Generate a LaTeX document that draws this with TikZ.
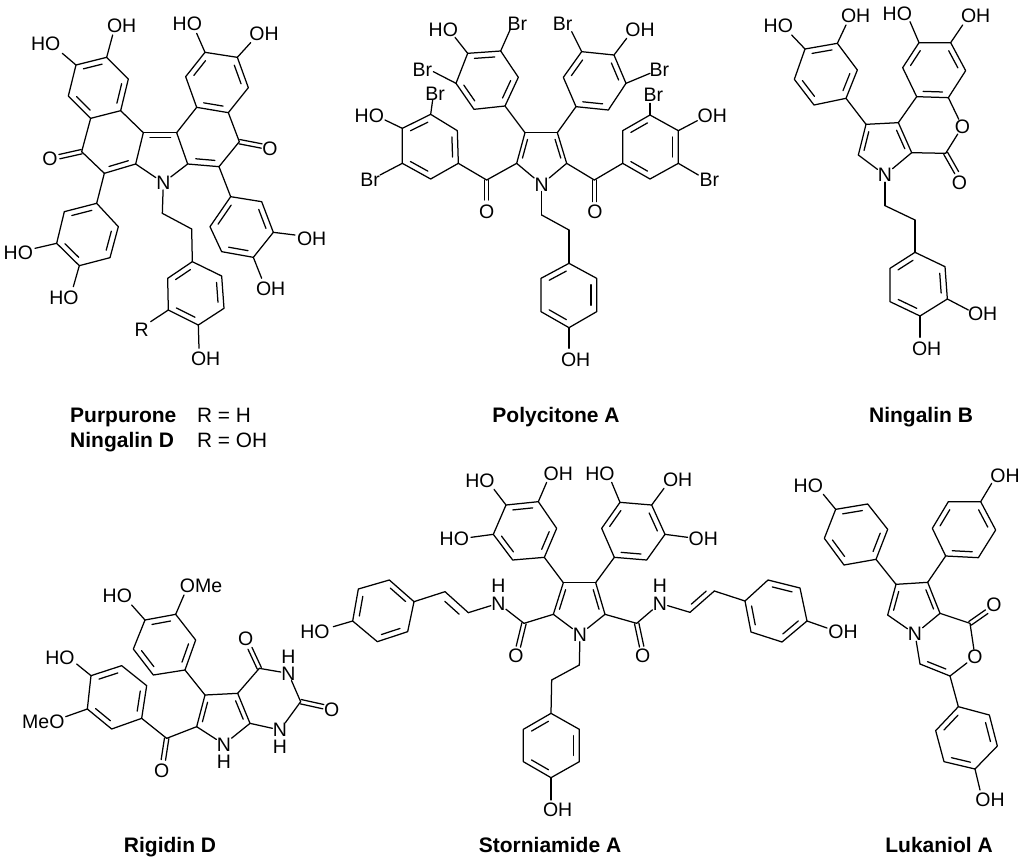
\documentclass[tikz,border=0pt]{standalone}
\usepackage{fontspec}
\setmainfont{Liberation Sans}
\usetikzlibrary{calc}
\tikzset{
  bond/.style={line width=1.25pt,black,line cap=round,line join=round},
  lab/.style={inner sep=0.3pt,font=\fontsize{19.5}{20}\selectfont,text=black},
  capt/.style={inner sep=0pt,font=\fontsize{21}{23}\selectfont\bfseries,text=black},
  capr/.style={inner sep=0pt,font=\fontsize{20.8}{23}\selectfont,text=black},
  zoomed/.style={x=0.33333pt,y=-0.33333pt}
}
\newcommand{\Atoms}[1]{\foreach \nm/\x/\y in {#1}{\coordinate (\nm) at (\x,\y);}}
\newcommand{\Bonds}[1]{\foreach \pa/\pb in {#1}{\draw[bond] (\pa)--(\pb);}}
\newcommand{\Inner}[1]{\foreach \pa/\pb/\pc in {#1}{\draw[bond,shorten >=3pt,shorten <=3pt] ($(\pa)!.2!(\pc)$)--($(\pb)!.2!(\pc)$);}}
\newcommand{\Dbl}[2]{\draw[bond] ($(#1)!2.2pt!90:(#2)$)--($(#2)!2.2pt!-90:(#1)$);\draw[bond] ($(#1)!2.2pt!-90:(#2)$)--($(#2)!2.2pt!90:(#1)$);}
\newcommand{\Hex}[2]{\foreach \x/\y [count=\k] in {#2}{\coordinate (#1\k) at (\x,\y);}
  \coordinate (#1c) at ($(#11)!.5!(#14)$);
  \draw[bond] (#11)--(#12)--(#13)--(#14)--(#15)--(#16)--cycle;
  \Inner{#11/#12/#1c,#13/#14/#1c,#15/#16/#1c}}
\newcommand{\Sub}[5]{\coordinate (#1e) at (#3);\node[lab] (#1) at (#4) {#5};\draw[bond] (#2)--(#1e);}
\newcommand{\Oxo}[4]{\coordinate (#1e) at (#3);\node[lab] (#1) at (#4) {O};\Dbl{#2}{#1e}}
\newcommand{\Atom}[3]{\node[lab] (#1) at (#2) {#3};}
\begin{document}
\begin{tikzpicture}
\useasboundingbox (0pt,0pt) rectangle (1024pt,-857pt);

% Purpurone / Ningalin D
\begin{scope}[zoomed,shift={(0pt,0pt)}]
\Hex{a}{228/195,320/172,385/237,362/332,272/355,205/288}
\Hex{d}{590/322,685/338,745/263,712/172,615/157,557/230}
\Hex{e}{193/635,290/610,355/680,330/773,238/797,170/730}
\Hex{f}{785/605,820/697,760/772,665/755,630/680,692/590}
\Hex{g}{665/828,672/925,595/975,505/930,503/835,577/785}
\Atoms{c1/430/398,c2/245/455,c3/313/520,c4/407/492,c5/530/398,c6/563/492,c7/657/500,c8/718/425,ch1/487/640,ch2/575/687,cl/340/430,cr/640/410,cp/485/470}
\Atom{n}{490,548}{N}
\Bonds{a4/c1,a5/c2,c2/c3,c3/c4,c4/c1,c1/c5,c5/c6,c5/d1,d2/c8,c8/c7,c7/c6,c4/n,c6/n,c3/e2,c7/f6,n/ch1,ch1/ch2,ch2/g6}
\Inner{c3/c4/cl,c1/c5/cp,c6/c7/cr}
\Oxo{o1}{c2}{178,470}{150,475}
\Oxo{o2}{c8}{785,438}{810,445}
\Sub{s1}{a2}{338,105}{365,78}{OH}
\Sub{s2}{a1}{187,160}{137,130}{HO}
\Sub{s3}{d5}{590,100}{562,70}{HO}
\Sub{s4}{d4}{752,128}{792,100}{OH}
\Sub{s5}{e6}{105,745}{55,757}{HO}
\Sub{s6}{e5}{220,860}{192,892}{HO}
\Sub{s7}{f2}{885,705}{935,715}{OH}
\Sub{s8}{f3}{785,835}{812,865}{OH}
\Sub{s9}{g4}{452,965}{425,990}{R}
\Sub{s10}{g3}{597,1045}{617,1075}{OH}
\end{scope}

% Polycitone A
\begin{scope}[zoomed,shift={(340pt,0pt)}]
\Hex{a}{383/160,482/153,535/232,495/318,402/328,348/250}
\Hex{b}{708/320,805/330,858/250,822/165,725/155,670/232}
\Hex{c}{352/392,355/490,272/537,187/490,187/385,272/343}
\Hex{d}{848/392,930/345,1015/392,1015/490,930/537,848/490}
\Hex{e}{770/835,770/935,687/983,603/935,603/835,687/790}
\Atoms{p1/555/398,p2/652/398,p3/680/490,p4/530/490,pc/605/455,k1/440/540,k2/763/540,ch1/605/645,ch2/687/690}
\Atom{n}{605,553}{N}
\Bonds{a4/p1,b1/p2,p1/p2,p2/p3,p1/p4,p4/n,p3/n,p4/k1,k1/c2,p3/k2,k2/d6,n/ch1,ch1/ch2,ch2/e6}
\Inner{p1/p4/pc,p2/p3/pc}
\Oxo{o1}{k1}{440,600}{440,635}
\Oxo{o2}{k2}{763,605}{765,635}
\Sub{s1}{a1}{345,112}{310,90}{HO}
\Sub{s2}{a2}{510,90}{532,70}{Br}
\Sub{s3}{a6}{280,215}{247,210}{Br}
\Sub{s4}{b4}{860,115}{900,90}{OH}
\Sub{s5}{b5}{695,95}{668,70}{Br}
\Sub{s6}{b3}{930,220}{958,210}{Br}
\Sub{s7}{c6}{278,300}{285,280}{Br}
\Sub{s8}{c5}{135,360}{88,348}{HO}
\Sub{s9}{c4}{120,525}{90,540}{Br}
\Sub{s10}{d2}{930,310}{940,285}{Br}
\Sub{s11}{d3}{1072,362}{1117,347}{OH}
\Sub{s12}{d4}{1075,525}{1108,540}{Br}
\Sub{s13}{e3}{687,1045}{707,1080}{OH}
\end{scope}

% Ningalin B
\begin{scope}[zoomed,shift={(740pt,0pt)}]
\Hex{a}{195/147,292/130,352/210,318/295,222/315,163/238}
\Hex{b}{530/290,625/293,677/212,632/128,537/128,488/203}
\Hex{c}{615/800,622/897,540/948,450/905,450/805,525/757}
\Atoms{p1/378/373,p2/475/368,p3/515/458,p4/355/465,pc/430/440,k/617/460,ch1/435/617,ch2/525/660}
\Atom{n}{435,525}{N}
\Atom{ox}{667,380}{O}
\Bonds{a4/p1,p1/p2,p2/p3,p1/p4,p4/n,p3/n,p2/b1,b2/ox,ox/k,k/p3,n/ch1,ch1/ch2,ch2/c6}
\Inner{p1/p4/pc,p2/p3/pc}
\Oxo{o1}{k}{650,518}{658,548}
\Sub{s1}{a1}{155,105}{115,77}{HO}
\Sub{s2}{a2}{318,75}{347,47}{OH}
\Sub{s3}{b5}{510,65}{472,40}{HO}
\Sub{s4}{b4}{668,75}{707,47}{OH}
\Sub{s5}{c2}{685,930}{728,942}{OH}
\Sub{s6}{c3}{540,1012}{560,1045}{OH}
\end{scope}

% Rigidin D
\begin{scope}[zoomed,shift={(0pt,-540pt)}]
\Hex{a}{435/240,527/223,587/300,555/390,460/405,400/327}
\Hex{b}{440/437,425/535,335/567,262/507,273/407,365/377}
\Atoms{p1/615/465,p2/713/460,p3/750/550,p4/590/560,pc/665/530,k1/778/385,k2/902/485,k3/500/595}
\Atom{n1}{672,613}{N}
\Atom{h1}{672,665}{H}
\Atom{n2}{865,400}{N}
\Atom{h2}{865,350}{H}
\Atom{n3}{840,570}{N}
\Atom{h3}{840,620}{H}
\Bonds{a4/p1,p1/p2,p2/p3,p1/p4,p4/n1,p3/n1,p2/k1,k1/n2,n2/k2,k2/n3,n3/p3,p4/k3,k3/b2}
\Inner{p1/p4/pc,p2/p3/pc}
\Oxo{o1}{k1}{750,325}{737,297}
\Oxo{o2}{k2}{970,500}{995,508}
\Oxo{o3}{k3}{490,660}{485,692}
\Sub{s1}{a1}{395,195}{352,168}{HO}
\Sub{s2}{a2}{552,165}{603,138}{OMe}
\Sub{s3}{b5}{230,372}{180,352}{HO}
\Sub{s4}{b4}{197,530}{130,545}{MeO}
\end{scope}

% Storniamide A
\begin{scope}[zoomed,shift={(300pt,-450pt)}]
\Hex{a}{618/165,715/155,770/235,733/322,638/330,580/253}
\Hex{b}{943/322,1040/330,1095/253,1055/165,960/157,905/235}
\Hex{c}{268/390,342/455,323/545,232/575,158/513,175/417}
\Hex{d}{1404/390,1500/414,1521/513,1446/576,1353/546,1335/453}
\Hex{e}{838/838,838/935,753/983,670/935,670/838,753/790}
\Atoms{p1/790/398,p2/887/398,p3/915/493,p4/760/493,pc/838/460,k1/672/520,k2/1010/520,v1/505/488,v2/435/425,v3/1170/487,v4/1243/423,vc1/400/541,vc2/1155/395,ch1/838/645,ch2/755/690}
\Atom{n}{840,553}{N}
\Atom{n1}{595,460}{N}
\Atom{h1}{595,408}{H}
\Atom{n2}{1080,460}{N}
\Atom{h2}{1080,408}{H}
\Bonds{a4/p1,b1/p2,p1/p2,p2/p3,p1/p4,p4/n,p3/n,p4/k1,k1/n1,n1/v1,v1/v2,v2/c2,p3/k2,k2/n2,n2/v3,v3/v4,v4/d6,n/ch1,ch1/ch2,ch2/e6}
\Inner{p1/p4/pc,p2/p3/pc,v1/v2/vc1,v3/v4/vc2}
\Oxo{o1}{k1}{655,590}{648,618}
\Oxo{o2}{k2}{1025,590}{1028,618}
\Sub{s1}{a1}{582,118}{540,92}{HO}
\Sub{s2}{a2}{740,97}{775,70}{OH}
\Sub{s3}{a6}{513,262}{463,267}{HO}
\Sub{s4}{b5}{935,97}{900,70}{HO}
\Sub{s5}{b4}{1092,115}{1133,90}{OH}
\Sub{s6}{b3}{1163,262}{1210,267}{OH}
\Sub{s7}{c5}{100,530}{45,545}{HO}
\Sub{s8}{d3}{1581,534}{1629,546}{OH}
\Sub{s9}{e3}{753,1050}{773,1080}{OH}
\end{scope}

% Lukaniol A
\begin{scope}[zoomed,shift={(770pt,-450pt)}]
\Hex{a}{197/178,293/162,353/238,318/328,222/345,163/265}
\Hex{b}{527/318,625/323,677/240,632/155,535/155,487/235}
\Hex{c}{658/795,682/888,615/957,522/935,497/842,565/770}
\Atoms{p1/378/403,p2/473/397,p3/510/490,p4/353/495,pc/430/467,k/600/520,w1/540/678,w2/450/642,wc/520/590}
\Atom{n}{435,552}{N}
\Atom{ox}{615,620}{O}
\Bonds{a4/p1,p1/p2,p2/p3,p1/p4,p4/n,p3/n,p2/b1,p3/k,k/ox,ox/w1,w1/w2,w2/n,w1/c6}
\Inner{p1/p4/pc,p2/p3/pc,w1/w2/wc}
\Oxo{o1}{k}{650,485}{672,465}
\Sub{s1}{a1}{160,133}{115,107}{HO}
\Sub{s2}{b4}{665,100}{705,77}{OH}
\Sub{s3}{c3}{630,1020}{660,1050}{OH}
\end{scope}

% Captions
\node[capt,anchor=base west] (t1) at (70pt,-422pt) {Purpurone};
\node[capr,anchor=base west] (t2) at (197pt,-422pt) {R = H};
\node[capt,anchor=base west] (t3) at (70pt,-447pt) {Ningalin D};
\node[capr,anchor=base west] (t4) at (197pt,-447pt) {R = OH};
\node[capt,anchor=base] (t5) at (556pt,-422pt) {Polycitone A};
\node[capt,anchor=base] (t6) at (921pt,-422pt) {Ningalin B};
\node[capt,anchor=base] (t7) at (170pt,-852pt) {Rigidin D};
\node[capt,anchor=base] (t8) at (550pt,-852pt) {Storniamide A};
\node[capt,anchor=base] (t9) at (939pt,-852pt) {Lukaniol A};
\end{tikzpicture}
\end{document}
